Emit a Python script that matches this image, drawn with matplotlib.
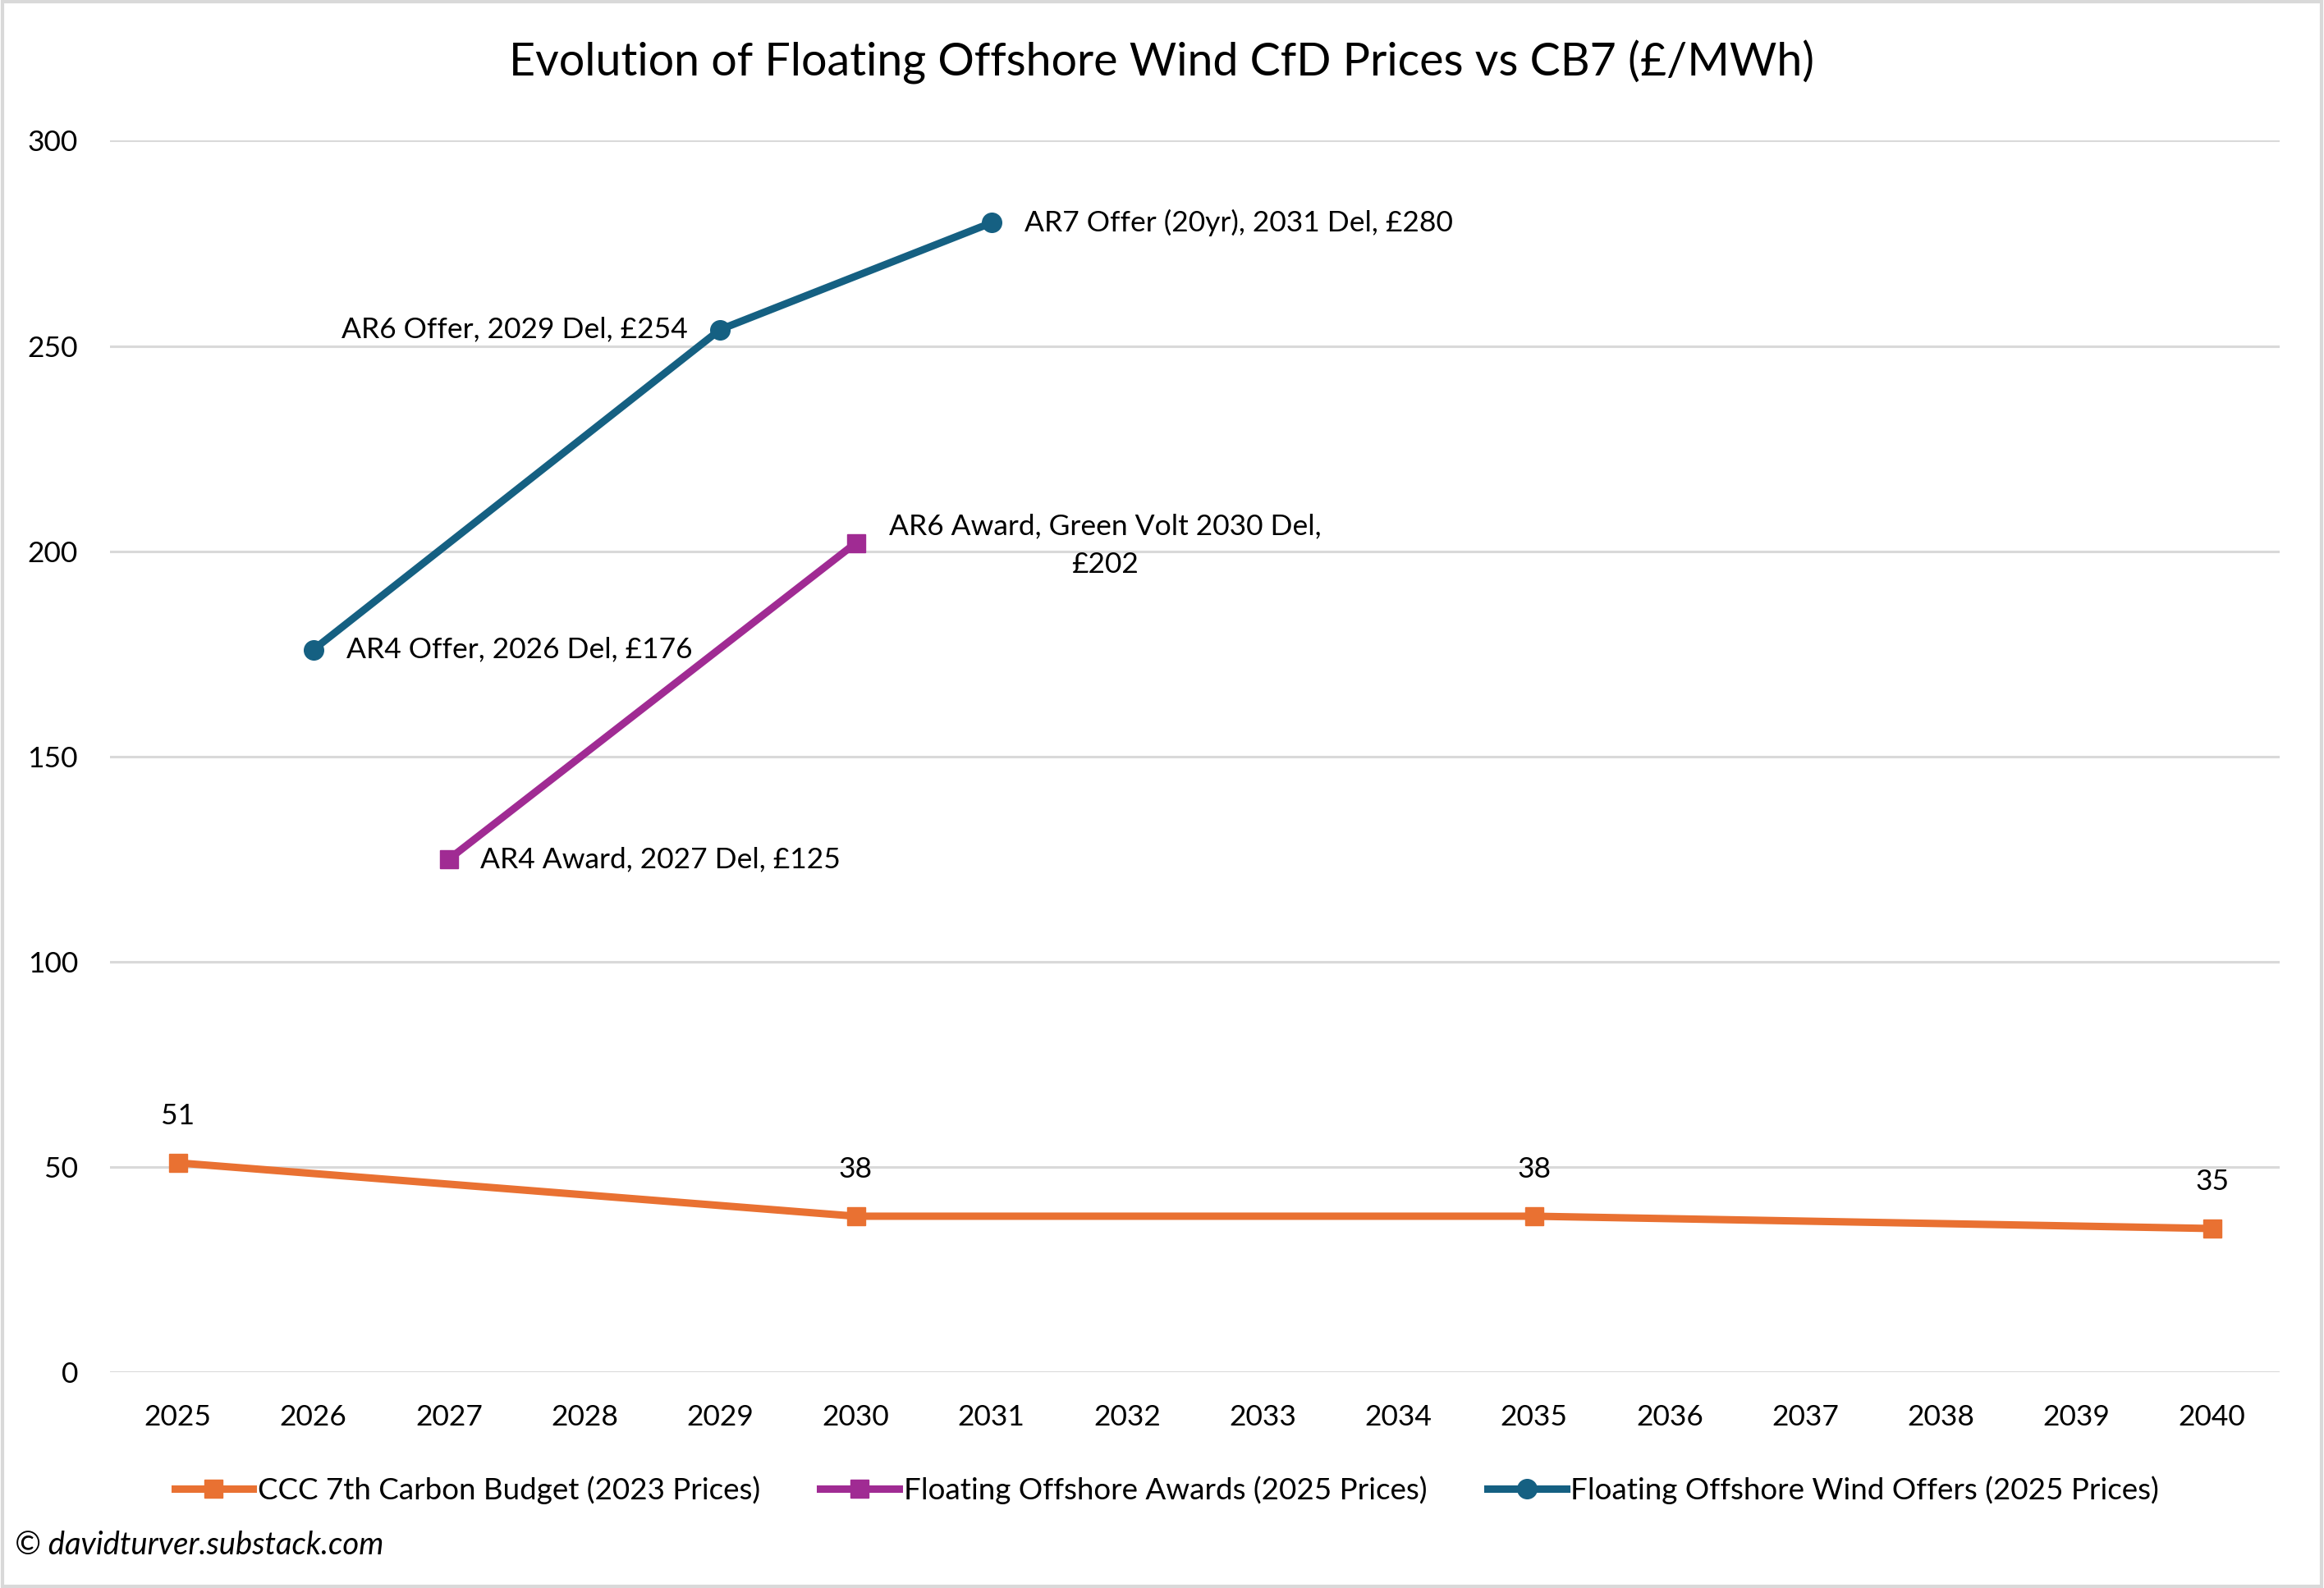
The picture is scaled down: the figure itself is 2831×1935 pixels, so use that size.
import matplotlib.pyplot as plt
from matplotlib.patches import Rectangle

plt.rcParams['font.family'] = ['Lato', 'DejaVu Sans']

# data
years = list(range(2025, 2041))
ccc_years = [2025, 2030, 2035, 2040]
ccc_vals = [51, 38, 38, 35]
award_years = [2027, 2030]
award_vals = [125, 202]
award_labels = ['AR4 Award, 2027 Del, £125', 'AR6 Award, Green Volt 2030 Del,\n£202']
offer_years = [2026, 2029, 2031]
offer_vals = [176, 254, 280]
offer_labels = ['AR4 Offer, 2026 Del, £176', 'AR6 Offer, 2029 Del, £254',
                'AR7 Offer (20yr), 2031 Del, £280']
series_names = ['CCC 7th Carbon Budget (2023 Prices)',
                'Floating Offshore Awards (2025 Prices)',
                'Floating Offshore Wind Offers (2025 Prices)']

orange = '#E97132'
purple = '#A02B93'
teal = '#156082'
grid = '#D9D9D9'

fig = plt.figure(figsize=(28.31, 19.35), dpi=100)
ax = fig.add_axes([0.0473, 0.1359, 0.9337, 0.7755])

lw = 6.5
ms = 16
ax.plot(ccc_years, ccc_vals, color=orange, lw=lw, marker='s', ms=ms, label=series_names[0])
ax.plot(award_years, award_vals, color=purple, lw=lw, marker='s', ms=ms, label=series_names[1])
ax.plot(offer_years, offer_vals, color=teal, lw=lw, marker='o', ms=ms + 1, label=series_names[2])

fs = 25.5
for x, v in zip(ccc_years, ccc_vals):
    ax.annotate(str(v), (x, v), xytext=(0, 57), textcoords='offset pixels',
                ha='center', va='center', fontsize=fs)

ax.annotate(offer_labels[0], (offer_years[0], offer_vals[0]), xytext=(40, 0),
            textcoords='offset pixels', ha='left', va='center', fontsize=fs)
ax.annotate(offer_labels[1], (offer_years[1], offer_vals[1]), xytext=(-40, 0),
            textcoords='offset pixels', ha='right', va='center', fontsize=fs)
ax.annotate(offer_labels[2], (offer_years[2], offer_vals[2]), xytext=(40, 0),
            textcoords='offset pixels', ha='left', va='center', fontsize=fs)
ax.annotate(award_labels[0], (award_years[0], award_vals[0]), xytext=(38, 0),
            textcoords='offset pixels', ha='left', va='center', fontsize=fs)
ax.annotate(award_labels[1], (award_years[1], award_vals[1]), xytext=(40, -3),
            textcoords='offset pixels', ha='left', va='center', fontsize=fs,
            multialignment='center', linespacing=1.6)

ax.set_xlim(2024.5, 2040.5)
ax.set_ylim(0, 300)
ax.set_xticks(years)
ax.set_xticklabels([str(y) for y in years])
ax.set_yticks(range(0, 301, 50))
ax.tick_params(axis='both', length=0, labelsize=fs)
ax.tick_params(axis='x', pad=28)
ax.tick_params(axis='y', pad=28)
ax.grid(axis='y', color=grid, lw=2.2)
ax.set_axisbelow(True)
for s in ax.spines.values():
    s.set_visible(False)

fig.text(0.5, 0.961, 'Evolution of Floating Offshore Wind CfD Prices vs CB7 (£/MWh)',
         ha='center', va='center', fontsize=40)

ax.legend(loc='center', bbox_to_anchor=(0.502, 1 - 1816 / 1935), bbox_transform=fig.transFigure,
          ncol=3, frameon=False, fontsize=26.5, handlelength=2.6, handletextpad=0.15,
          columnspacing=2.0)

fig.text(18 / 2831, 1 - 1883 / 1935, '© davidturver.substack.com', ha='left', va='center',
         fontsize=27.5, style='italic')

fig.patches.append(Rectangle((0.001, 0.001), 0.998, 0.998, transform=fig.transFigure,
                             fill=False, edgecolor=grid, lw=3))

fig.savefig('out.png', dpi=100, facecolor='white')
